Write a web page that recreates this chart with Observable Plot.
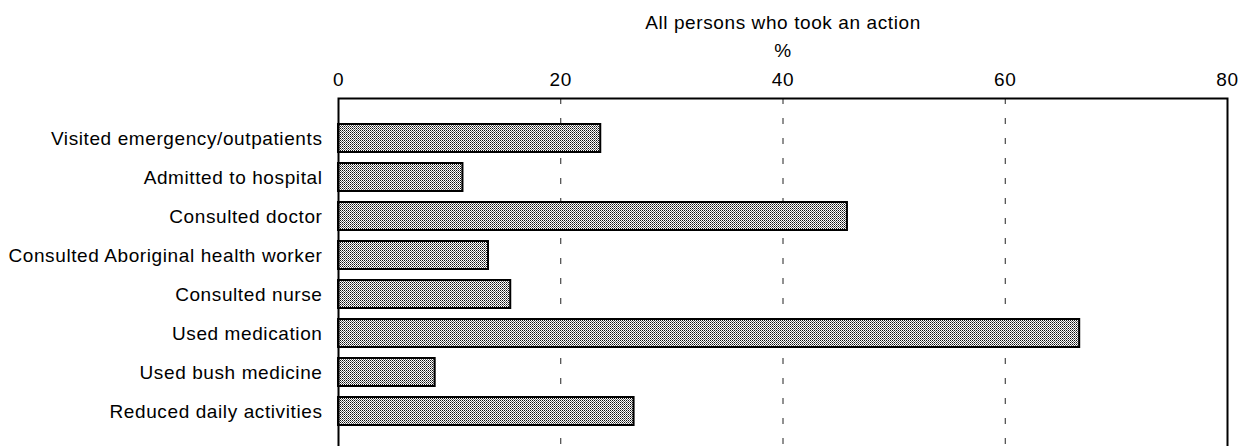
<!DOCTYPE html>
<html><head><meta charset="utf-8">
<script src="https://cdn.jsdelivr.net/npm/d3@7"></script>
<script src="https://cdn.jsdelivr.net/npm/@observablehq/plot@0.6"></script>
<style>html,body{margin:0;padding:0;background:#fff;overflow:hidden}</style>
</head><body><div id="chart"></div>
<script>
const categories = [
  "Visited emergency/outpatients",
  "Admitted to hospital",
  "Consulted doctor",
  "Consulted Aboriginal health worker",
  "Consulted nurse",
  "Used medication",
  "Used bush medicine",
  "Reduced daily activities"
];
const values = [23.6, 11.2, 45.8, 13.5, 15.5, 66.7, 8.7, 26.6];
const xTicks = [0, 20, 40, 60, 80];
const gridTicks = [20, 40, 60];
const titleLines = ["All persons who took an action", "%"];

const data = categories.map((c, i) => ({action: c, pct: values[i]}));

const chart = Plot.plot({
  width: 1247, height: 446,
  marginLeft: 338, marginRight: 20, marginTop: 98, marginBottom: -6,
  style: {fontFamily: "'Liberation Sans', Arial, sans-serif", fontSize: "19px", letterSpacing: "0.6px", background: "white", color: "black"},
  x: {domain: [0, 80], axis: null},
  y: {domain: categories, axis: null, paddingInner: 0.28, paddingOuter: 0.6},
  marks: [
    Plot.ruleX(gridTicks, {stroke: "#222", strokeDasharray: "6,14", strokeWidth: 1}),
    Plot.barX(data, {x: "pct", y: "action", fill: "url(#stip)", stroke: "black", strokeWidth: 2}),
    Plot.frame({stroke: "black", strokeWidth: 2}),
    Plot.axisX(xTicks, {anchor: "top", tickSize: 0, tickPadding: 13, label: null, fontSize: 19}),
    Plot.axisY({anchor: "left", tickSize: 0, tickPadding: 16, label: null, fontSize: 19}),
    Plot.text([titleLines[0]], {x: () => 40, frameAnchor: "top", dy: -83, text: d => d, fontSize: 19}),
    Plot.text([titleLines[1]], {x: () => 40, frameAnchor: "top", dy: -55, text: d => d, fontSize: 19})
  ]
});

const svg = d3.select(chart);
const defs = svg.insert("defs", ":first-child");
const pat = defs.append("pattern").attr("id", "stip").attr("patternUnits", "userSpaceOnUse")
  .attr("width", 2).attr("height", 2);
pat.append("rect").attr("width", 2).attr("height", 2).attr("fill", "#fff");
pat.append("rect").attr("x", 0).attr("y", 0).attr("width", 1).attr("height", 1).attr("fill", "#111");
pat.append("rect").attr("x", 1).attr("y", 1).attr("width", 1).attr("height", 1).attr("fill", "#666");
document.getElementById("chart").appendChild(chart);
</script>
</body></html>
